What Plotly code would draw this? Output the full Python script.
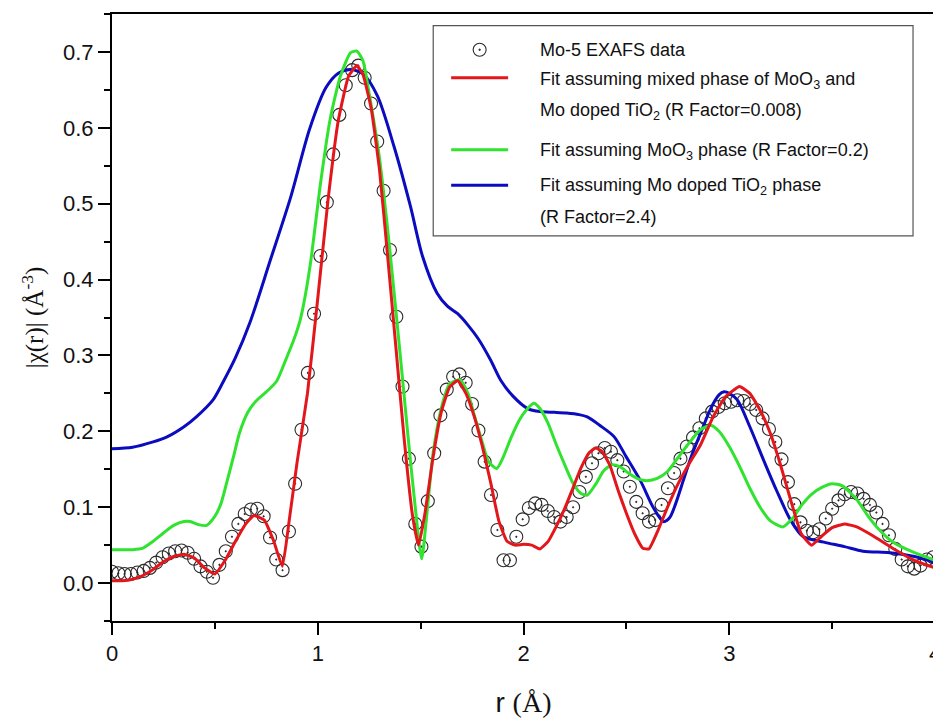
import plotly.graph_objects as go

# ---------------- data ----------------
r_data = [0.000, 0.031, 0.061, 0.092, 0.123, 0.154, 0.184, 0.215, 0.246, 0.276,
          0.307, 0.338, 0.368, 0.399, 0.430, 0.461, 0.491, 0.522, 0.553, 0.583,
          0.614, 0.645, 0.675, 0.706, 0.737, 0.768, 0.798, 0.829, 0.860, 0.890,
          0.921, 0.952, 0.982, 1.013, 1.044, 1.075, 1.105, 1.136, 1.167, 1.197,
          1.228, 1.259, 1.289, 1.320, 1.351, 1.382, 1.412, 1.443, 1.474, 1.504,
          1.535, 1.566, 1.596, 1.627, 1.658, 1.689, 1.719, 1.750, 1.781, 1.811,
          1.842, 1.873, 1.903, 1.934, 1.965, 1.996, 2.026, 2.057, 2.088, 2.118,
          2.149, 2.180, 2.210, 2.241, 2.272, 2.303, 2.333, 2.364, 2.395, 2.425,
          2.456, 2.487, 2.517, 2.548, 2.579, 2.610, 2.640, 2.671, 2.702, 2.732,
          2.763, 2.794, 2.824, 2.855, 2.886, 2.917, 2.947, 2.978, 3.009, 3.039,
          3.070, 3.101, 3.131, 3.162, 3.193, 3.224, 3.254, 3.285, 3.316, 3.346,
          3.377, 3.408, 3.438, 3.469, 3.500, 3.531, 3.561, 3.592, 3.623, 3.653,
          3.684, 3.715, 3.745, 3.776, 3.807, 3.838, 3.868, 3.899, 3.930, 3.960,
          3.991]
chi_data = [0.015, 0.013, 0.012, 0.012, 0.014, 0.016, 0.020, 0.027, 0.034, 0.039,
            0.042, 0.043, 0.040, 0.032, 0.022, 0.015, 0.007, 0.024, 0.042, 0.061,
            0.078, 0.091, 0.097, 0.098, 0.088, 0.060, 0.031, 0.017, 0.068, 0.131,
            0.202, 0.277, 0.355, 0.431, 0.502, 0.565, 0.617, 0.656, 0.676, 0.682,
            0.666, 0.632, 0.582, 0.517, 0.439, 0.351, 0.259, 0.164, 0.078, 0.048,
            0.108, 0.171, 0.221, 0.255, 0.272, 0.275, 0.264, 0.236, 0.201, 0.160,
            0.116, 0.070, 0.030, 0.030, 0.061, 0.084, 0.099, 0.105, 0.103, 0.095,
            0.087, 0.081, 0.087, 0.100, 0.120, 0.140, 0.158, 0.171, 0.178, 0.173,
            0.162, 0.147, 0.127, 0.107, 0.092, 0.081, 0.083, 0.103, 0.125, 0.145,
            0.164, 0.180, 0.192, 0.204, 0.217, 0.226, 0.232, 0.237, 0.239, 0.241,
            0.240, 0.236, 0.228, 0.217, 0.203, 0.186, 0.163, 0.133, 0.104, 0.080,
            0.069, 0.067, 0.071, 0.085, 0.098, 0.109, 0.117, 0.120, 0.118, 0.111,
            0.103, 0.093, 0.078, 0.063, 0.045, 0.031, 0.022, 0.019, 0.023, 0.031,
            0.034]

r_mixed = [0.00, 0.05, 0.10, 0.15, 0.20, 0.25, 0.30, 0.35, 0.40, 0.45,
           0.50, 0.55, 0.60, 0.65, 0.69, 0.74, 0.785, 0.828, 0.86, 0.90,
           0.95, 1.00, 1.05, 1.10, 1.15, 1.19, 1.22, 1.26, 1.30, 1.34,
           1.38, 1.42, 1.46, 1.49, 1.52, 1.56, 1.60, 1.64, 1.68, 1.72,
           1.76, 1.80, 1.84, 1.88, 1.92, 1.96, 2.00, 2.04, 2.08, 2.12,
           2.16, 2.20, 2.24, 2.28, 2.32, 2.35, 2.38, 2.42, 2.46, 2.50,
           2.54, 2.58, 2.61, 2.65, 2.70, 2.75, 2.80, 2.86, 2.92, 2.98,
           3.05, 3.10, 3.15, 3.20, 3.25, 3.30, 3.35, 3.40, 3.45, 3.50,
           3.56, 3.62, 3.70, 3.80, 3.90, 4.00]
chi_mixed = [0.003, 0.003, 0.005, 0.010, 0.018, 0.028, 0.035, 0.038, 0.033, 0.020,
             0.012, 0.030, 0.055, 0.078, 0.089, 0.083, 0.056, 0.022, 0.080, 0.160,
             0.250, 0.375, 0.505, 0.610, 0.668, 0.682, 0.670, 0.625, 0.545, 0.430,
             0.310, 0.190, 0.090, 0.050, 0.090, 0.165, 0.225, 0.258, 0.267, 0.250,
             0.220, 0.180, 0.133, 0.082, 0.055, 0.050, 0.051, 0.050, 0.045, 0.055,
             0.075, 0.098, 0.125, 0.152, 0.172, 0.178, 0.174, 0.155, 0.122, 0.092,
             0.065, 0.046, 0.045, 0.067, 0.100, 0.130, 0.155, 0.182, 0.218, 0.245,
             0.259, 0.250, 0.228, 0.197, 0.155, 0.108, 0.065, 0.050, 0.062, 0.073,
             0.078, 0.074, 0.062, 0.045, 0.030, 0.020]

r_moo3 = [0.00, 0.10, 0.15, 0.20, 0.25, 0.30, 0.35, 0.38, 0.42, 0.46,
          0.50, 0.53, 0.56, 0.59, 0.62, 0.66, 0.70, 0.75, 0.80, 0.85,
          0.88, 0.915, 0.94, 0.97, 1.01, 1.06, 1.11, 1.16, 1.19, 1.22,
          1.25, 1.30, 1.35, 1.40, 1.44, 1.47, 1.505, 1.53, 1.56, 1.60,
          1.64, 1.69, 1.73, 1.76, 1.80, 1.83, 1.87, 1.90, 1.94, 1.98,
          2.02, 2.05, 2.08, 2.12, 2.16, 2.20, 2.24, 2.28, 2.31, 2.35,
          2.39, 2.43, 2.47, 2.52, 2.56, 2.60, 2.65, 2.70, 2.75, 2.80,
          2.86, 2.91, 2.95, 3.00, 3.05, 3.10, 3.15, 3.20, 3.26, 3.31,
          3.35, 3.40, 3.45, 3.50, 3.55, 3.62, 3.67, 3.72, 3.80, 3.90,
          4.00]
chi_moo3 = [0.044, 0.044, 0.046, 0.055, 0.066, 0.076, 0.081, 0.081, 0.077, 0.076,
            0.088, 0.105, 0.135, 0.166, 0.198, 0.225, 0.240, 0.252, 0.266, 0.298,
            0.318, 0.347, 0.380, 0.432, 0.520, 0.611, 0.668, 0.699, 0.701, 0.688,
            0.645, 0.560, 0.440, 0.303, 0.190, 0.110, 0.032, 0.090, 0.170, 0.230,
            0.262, 0.268, 0.250, 0.222, 0.185, 0.160, 0.151, 0.165, 0.192, 0.215,
            0.230, 0.237, 0.230, 0.210, 0.182, 0.156, 0.132, 0.118, 0.116, 0.130,
            0.148, 0.156, 0.153, 0.143, 0.137, 0.135, 0.138, 0.147, 0.165, 0.183,
            0.202, 0.208, 0.200, 0.180, 0.154, 0.125, 0.100, 0.082, 0.074, 0.086,
            0.102, 0.117, 0.126, 0.131, 0.128, 0.110, 0.090, 0.073, 0.053, 0.040,
            0.030]

r_tio2 = [0.00, 0.10, 0.20, 0.27, 0.35, 0.41, 0.49, 0.54, 0.60, 0.67,
          0.77, 0.87, 0.96, 1.04, 1.10, 1.16, 1.22, 1.29, 1.37, 1.45,
          1.51, 1.58, 1.63, 1.68, 1.73, 1.78, 1.84, 1.89, 1.95, 2.02,
          2.08, 2.15, 2.21, 2.27, 2.31, 2.37, 2.44, 2.50, 2.57, 2.63,
          2.68, 2.71, 2.74, 2.78, 2.82, 2.86, 2.91, 2.95, 2.975, 3.00,
          3.04, 3.10, 3.17, 3.23, 3.30, 3.36, 3.46, 3.56, 3.65, 3.78,
          3.90, 4.00]
chi_tio2 = [0.177, 0.179, 0.186, 0.193, 0.206, 0.219, 0.241, 0.265, 0.297, 0.343,
            0.426, 0.510, 0.598, 0.653, 0.672, 0.677, 0.671, 0.642, 0.576, 0.497,
            0.430, 0.382, 0.365, 0.355, 0.340, 0.322, 0.294, 0.267, 0.246, 0.230,
            0.226, 0.225, 0.224, 0.222, 0.219, 0.208, 0.193, 0.166, 0.134, 0.100,
            0.081, 0.086, 0.105, 0.138, 0.170, 0.197, 0.230, 0.248, 0.252, 0.250,
            0.241, 0.206, 0.160, 0.122, 0.082, 0.061, 0.054, 0.048, 0.042, 0.040,
            0.035, 0.027]

legend_labels = [
    "Mo-5 EXAFS data",
    "Fit assuming mixed phase of MoO<sub>3</sub> and",
    "Mo doped TiO<sub>2</sub> (R Factor=0.008)",
    "Fit assuming MoO<sub>3</sub> phase (R Factor=0.2)",
    "Fit assuming Mo doped TiO<sub>2</sub> phase",
    "(R Factor=2.4)",
]

x_ticks = [0, 1, 2, 3, 4]
x_tick_text = ["0", "1", "2", "3", "4"]

# ---------------- styles ----------------
RED = "#e3161b"
GREEN = "#2fe32f"
BLUE = "#0b0bbf"
SANS = "Liberation Sans, Arial, sans-serif"
SERIF = "Liberation Serif, Times New Roman, serif"

fig = go.Figure()
fig.add_trace(go.Scatter(
    x=r_data, y=chi_data, mode="markers", name=legend_labels[0],
    marker=dict(symbol="circle-open-dot", size=13, color="#2a2a2a",
                line=dict(width=1.1, color="#2a2a2a")),
))
fig.add_trace(go.Scatter(x=r_tio2, y=chi_tio2, mode="lines",
                         line=dict(color=BLUE, width=3, shape="spline", smoothing=0.8),
                         name="tio2"))
fig.add_trace(go.Scatter(x=r_moo3, y=chi_moo3, mode="lines",
                         line=dict(color=GREEN, width=3, shape="spline", smoothing=0.6),
                         name="moo3"))
fig.add_trace(go.Scatter(x=r_mixed, y=chi_mixed, mode="lines",
                         line=dict(color=RED, width=3, shape="spline", smoothing=0.4),
                         name="mixed"))

# ---------------- manual legend (paper coordinates) ----------------
lg_x0, lg_x1, lg_y0, lg_y1 = 0.3903, 0.9733, 0.6344, 0.9807
fig.add_shape(type="rect", xref="paper", yref="paper",
              x0=lg_x0, x1=lg_x1, y0=lg_y0, y1=lg_y1,
              line=dict(color="#555555", width=1.2), fillcolor="rgba(0,0,0,0)")
text_x = 0.5178
text_y = [0.9411, 0.8900, 0.8388, 0.7729, 0.7152, 0.6657]
for lab, ty in zip(legend_labels, text_y):
    fig.add_annotation(xref="paper", yref="paper", x=text_x, y=ty, text=lab,
                       showarrow=False, xanchor="left", yanchor="middle",
                       font=dict(family=SANS, size=18, color="#111111"))
sym_x0, sym_x1 = 0.4121, 0.4813
for col, sy in [(RED, 0.8948), (GREEN, 0.7762), (BLUE, 0.7178)]:
    fig.add_shape(type="line", xref="paper", yref="paper",
                  x0=sym_x0, x1=sym_x1, y0=sy, y1=sy,
                  line=dict(color=col, width=3))
circ_x, circ_y = 0.4467, 0.9411
fig.add_shape(type="circle", xref="paper", yref="paper",
              xsizemode="pixel", ysizemode="pixel",
              xanchor=circ_x, yanchor=circ_y, x0=-6.5, x1=6.5, y0=-6.5, y1=6.5,
              line=dict(color="#2a2a2a", width=1.1))
fig.add_shape(type="circle", xref="paper", yref="paper",
              xsizemode="pixel", ysizemode="pixel",
              xanchor=circ_x, yanchor=circ_y, x0=-0.8, x1=0.8, y0=-0.8, y1=0.8,
              line=dict(color="#2a2a2a", width=0.8), fillcolor="#2a2a2a")

# the page body has an 8 px margin, so the figure is sized to fill the rest
fig.update_layout(
    width=933, height=710,
    margin=dict(l=104, r=6, t=6, b=97),
    paper_bgcolor="white", plot_bgcolor="white",
    showlegend=False,
    font=dict(family=SANS, color="#111111"),
    xaxis=dict(
        range=[0, 4], tickvals=x_ticks, ticktext=x_tick_text,
        automargin=False, ticklabeloverflow="allow",
        showgrid=False, zeroline=False,
        showline=True, linecolor="black", linewidth=2, mirror=True,
        ticks="outside", ticklen=12, tickwidth=2, tickcolor="black",
        minor=dict(dtick=0.5, tick0=0, ticks="outside", ticklen=6,
                   tickwidth=2, tickcolor="black", showgrid=False),
        tickfont=dict(family=SANS, size=22, color="#111111"),
        title=dict(text="r <span style='font-family:Liberation Serif'>(Å)</span>",
                   font=dict(family=SANS, size=28, color="#111111"), standoff=28),
    ),
    yaxis=dict(
        range=[-0.05, 0.75], dtick=0.1, tick0=0, tickformat=".1f",
        automargin=False,
        showgrid=False, zeroline=False,
        showline=True, linecolor="black", linewidth=2, mirror=True,
        ticks="outside", ticklen=12, tickwidth=2, tickcolor="black",
        minor=dict(dtick=0.05, tick0=0, ticks="outside", ticklen=6,
                   tickwidth=2, tickcolor="black", showgrid=False),
        tickfont=dict(family=SANS, size=22, color="#111111"),
        title=dict(text="|χ(r)| (Å<sup>-3</sup>)",
                   font=dict(family=SERIF, size=25, color="#111111"), standoff=12),
    ),
)

fig.write_html("out.html")
